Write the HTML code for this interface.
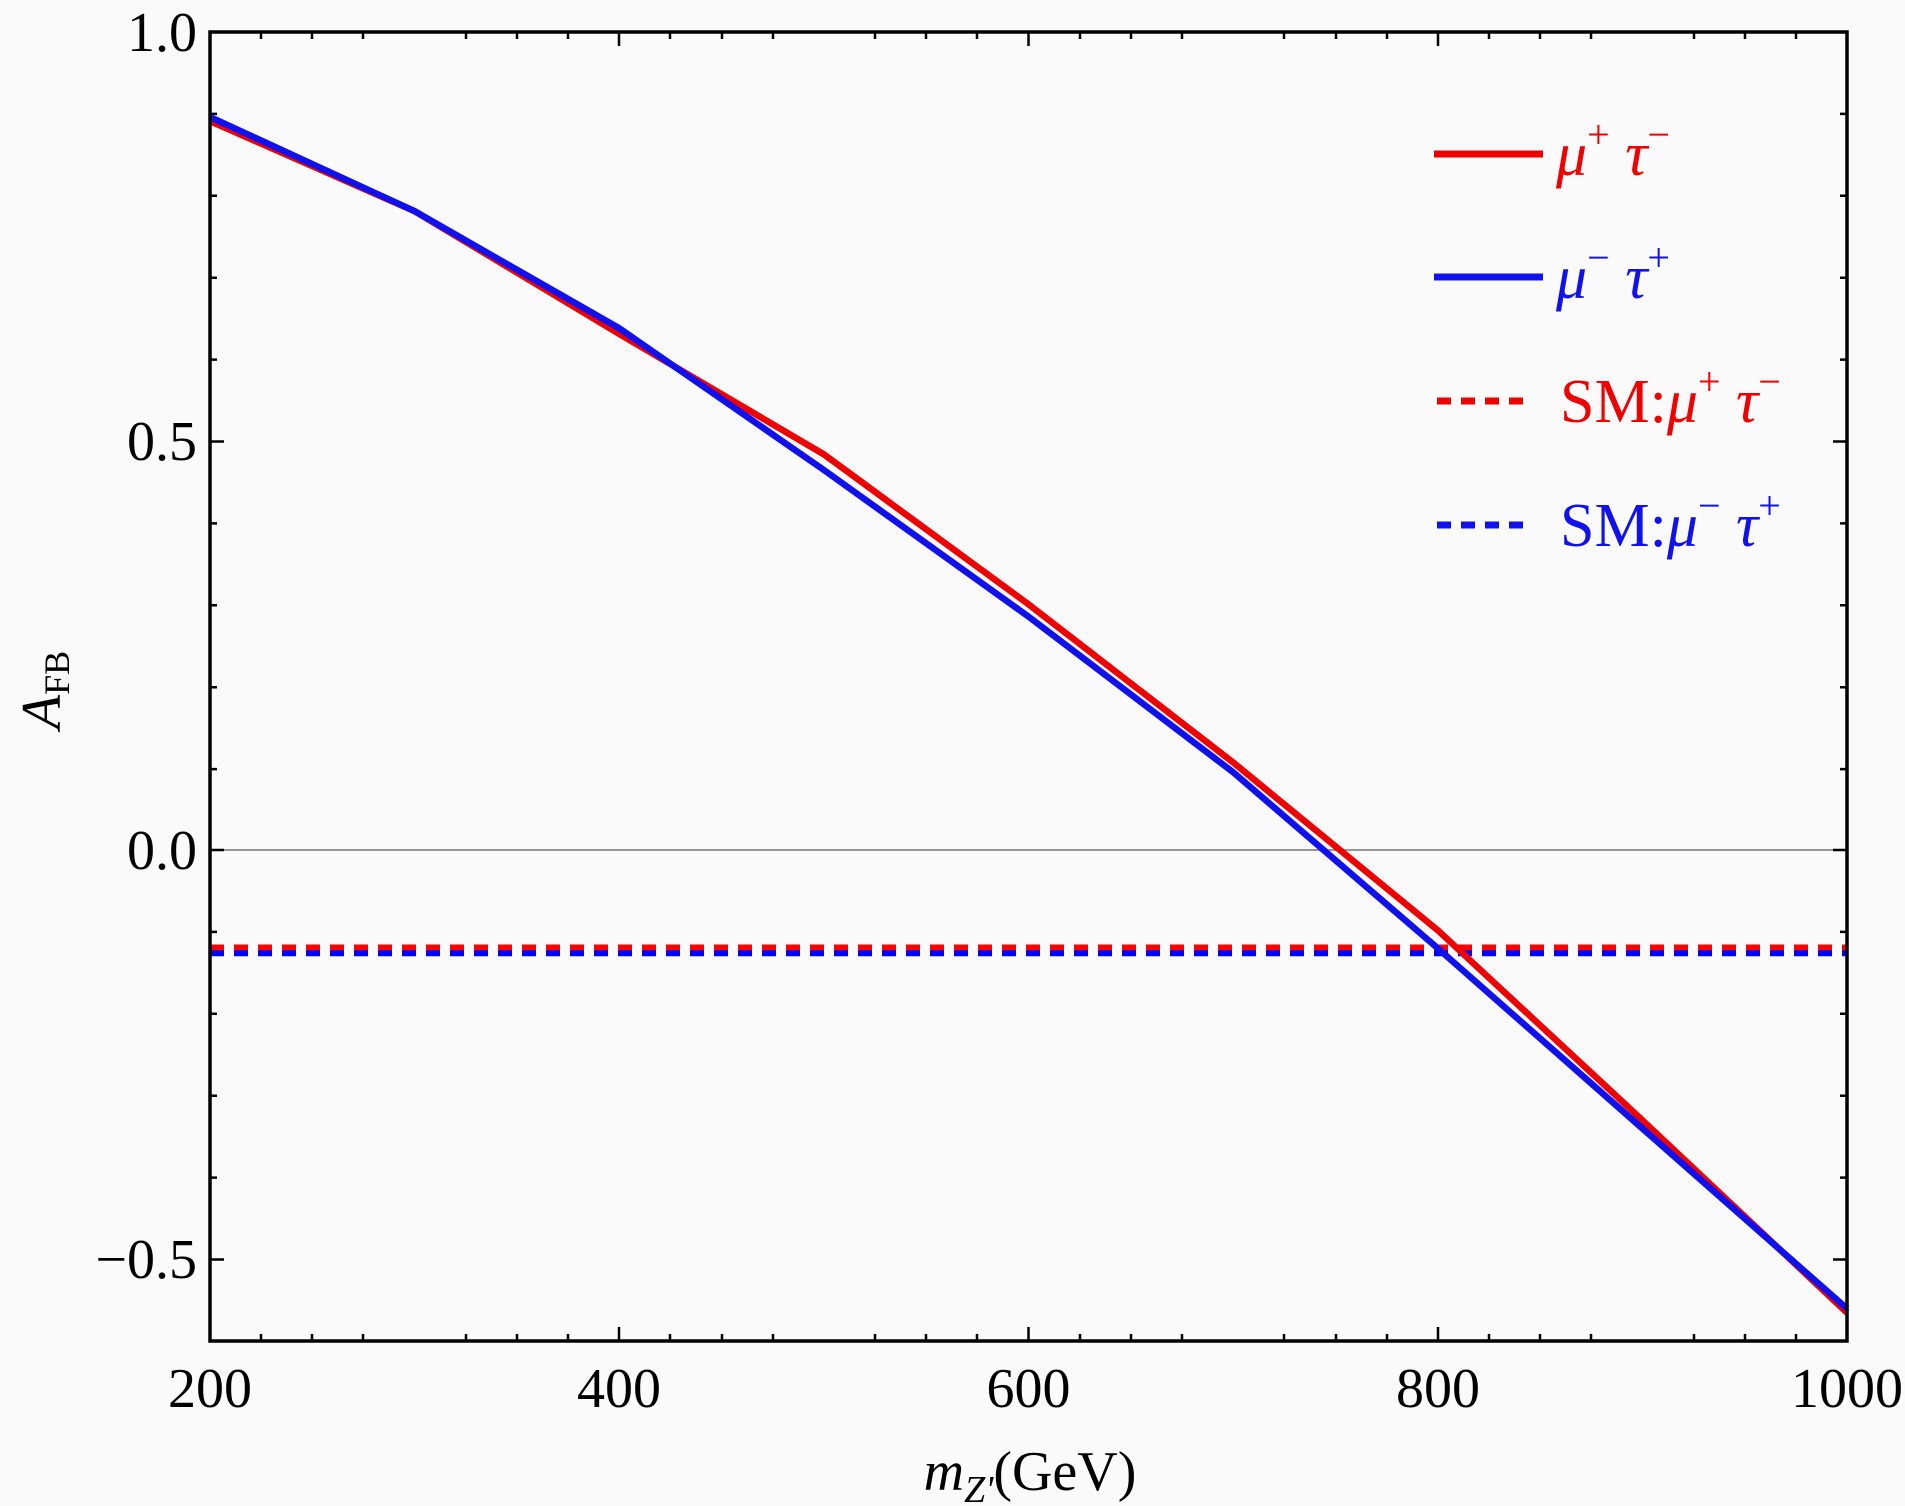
<!DOCTYPE html>
<html><head><meta charset="utf-8"><style>
html,body{margin:0;padding:0;background:#fafafa;}
svg{display:block;}
text{font-family:"Liberation Serif","DejaVu Serif",serif;}
</style></head><body>
<svg width="1905" height="1506" viewBox="0 0 1905 1506" xmlns="http://www.w3.org/2000/svg">
<rect width="1905" height="1506" fill="#fafafa"/>
<line x1="210" y1="850" x2="1847" y2="850" stroke="#999" stroke-width="2"/>
<g stroke="#000" stroke-width="2.5">
<path d="M261,1341v-7M312,1341v-7M363,1341v-7M466,1341v-7M517,1341v-7M568,1341v-7M670,1341v-7M722,1341v-7M773,1341v-7M875,1341v-7M926,1341v-7M977,1341v-7M1080,1341v-7M1131,1341v-7M1182,1341v-7M1284,1341v-7M1336,1341v-7M1387,1341v-7M1489,1341v-7M1540,1341v-7M1591,1341v-7M1694,1341v-7M1745,1341v-7M1796,1341v-7"/>
<path d="M619,1341v-14M1028.5,1341v-14M1438,1341v-14"/>
<path d="M261,32v7M312,32v7M363,32v7M466,32v7M517,32v7M568,32v7M670,32v7M722,32v7M773,32v7M875,32v7M926,32v7M977,32v7M1080,32v7M1131,32v7M1182,32v7M1284,32v7M1336,32v7M1387,32v7M1489,32v7M1540,32v7M1591,32v7M1694,32v7M1745,32v7M1796,32v7"/>
<path d="M619,32v14M1028.5,32v14M1438,32v14"/>
<path d="M210,113.9h7M210,195.8h7M210,277.7h7M210,359.6h7M210,523.4h7M210,605.3h7M210,687.2h7M210,769.1h7M210,931.9h7M210,1013.8h7M210,1095.7h7M210,1177.6h7"/>
<path d="M210,441.5h14M210,850h14M210,1259.5h14"/>
<path d="M1847,113.9h-7M1847,195.8h-7M1847,277.7h-7M1847,359.6h-7M1847,523.4h-7M1847,605.3h-7M1847,687.2h-7M1847,769.1h-7M1847,931.9h-7M1847,1013.8h-7M1847,1095.7h-7M1847,1177.6h-7"/>
<path d="M1847,441.5h-14M1847,850h-14M1847,1259.5h-14"/>
</g>
<line x1="210" y1="947.5" x2="1847" y2="947.5" stroke="#f00" stroke-width="6" stroke-dasharray="14,10"/>
<line x1="210" y1="953.2" x2="1847" y2="953.2" stroke="#00f" stroke-width="6" stroke-dasharray="14,10"/>
<polyline fill="none" stroke="#e00" stroke-width="6.5" points="210,121.1 414.6,211.2 619.3,334 823.9,454.4 1028.5,604.3 1233.1,762.4 1437.8,930.3 1642.4,1120.3 1847,1312.7"/>
<polyline fill="none" stroke="#11e" stroke-width="6.5" points="210,117 414.6,211.2 619.3,328.3 823.9,470 1028.5,616.6 1233.1,772.2 1437.8,948.3 1642.4,1128.5 1847,1308.6"/>
<rect x="210" y="32" width="1637" height="1309" fill="none" stroke="#000" stroke-width="3.5"/>
<g font-size="56" fill="#000">
<text x="210" y="1407" text-anchor="middle">200</text>
<text x="619" y="1407" text-anchor="middle">400</text>
<text x="1028.5" y="1407" text-anchor="middle">600</text>
<text x="1438" y="1407" text-anchor="middle">800</text>
<text x="1847" y="1407" text-anchor="middle">1000</text>
<text x="197" y="51" text-anchor="end">1.0</text>
<text x="197" y="460" text-anchor="end">0.5</text>
<text x="197" y="869" text-anchor="end">0.0</text>
<text x="197" y="1278" text-anchor="end">−0.5</text>
<text x="1030" y="1490" text-anchor="middle"><tspan font-style="italic">m</tspan><tspan font-style="italic" font-size="38" dy="12">Z'</tspan><tspan dy="-12">(GeV)</tspan></text>
<text transform="translate(60,690) rotate(-90)" text-anchor="middle"><tspan font-style="italic">A</tspan><tspan font-size="36" dy="9">FB</tspan></text>
</g>
<g stroke-width="7">
<line x1="1434" y1="154" x2="1543" y2="154" stroke="#e00"/>
<line x1="1434" y1="277" x2="1543" y2="277" stroke="#11e"/>
<line x1="1437" y1="401" x2="1529" y2="401" stroke="#e00" stroke-dasharray="14,10"/>
<line x1="1437" y1="525" x2="1529" y2="525" stroke="#11e" stroke-dasharray="14,10"/>
</g>
<g font-size="62">
<text x="1556" y="175" fill="#e00" font-style="italic">μ<tspan font-size="40" dy="-27" font-style="normal">+</tspan><tspan dy="27"> τ</tspan><tspan font-size="40" dy="-27" font-style="normal">−</tspan></text>
<text x="1556" y="298" fill="#11e" font-style="italic">μ<tspan font-size="40" dy="-27" font-style="normal">−</tspan><tspan dy="27"> τ</tspan><tspan font-size="40" dy="-27" font-style="normal">+</tspan></text>
<text x="1560" y="422" fill="#e00">SM:<tspan font-style="italic">μ</tspan><tspan font-size="40" dy="-27">+</tspan><tspan dy="27" font-style="italic"> τ</tspan><tspan font-size="40" dy="-27">−</tspan></text>
<text x="1560" y="546" fill="#11e">SM:<tspan font-style="italic">μ</tspan><tspan font-size="40" dy="-27">−</tspan><tspan dy="27" font-style="italic"> τ</tspan><tspan font-size="40" dy="-27">+</tspan></text>
</g>
</svg>
</body></html>
